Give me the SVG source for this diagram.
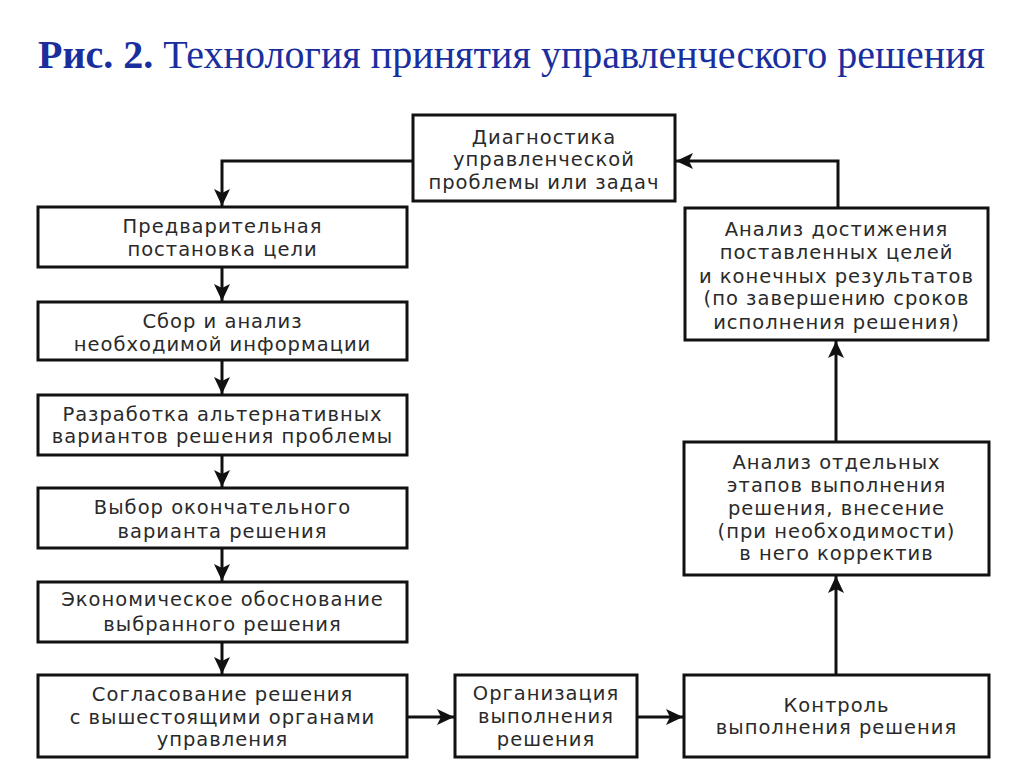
<svg xmlns="http://www.w3.org/2000/svg" width="1024" height="767" viewBox="0 0 1024 767">
<defs>
<style>
.title{font-family:"Liberation Serif","Times New Roman",serif;font-size:39px;fill:#1a2f9e}
.box{fill:#fff;stroke:#111;stroke-width:3}
.t{font-family:"DejaVu Sans","Liberation Sans",sans-serif;font-size:19.5px;letter-spacing:1px;fill:#2a2a2a;text-anchor:middle}
.c{fill:none;stroke:#111;stroke-width:3}
</style>
<marker id="ah" markerUnits="userSpaceOnUse" markerWidth="18" markerHeight="16" refX="17" refY="8" orient="auto">
<path d="M0,0 L17,8 L0,16 L4,8 z" fill="#111"/>
</marker>
</defs>
<rect width="1024" height="767" fill="#fff"/>
<text class="title" x="38" y="68" textLength="947" lengthAdjust="spacingAndGlyphs"><tspan font-weight="bold">Рис. 2.</tspan> Технология принятия управленческого решения</text>

<g id="connectors">
<path class="c" d="M413,161 H222 V206" marker-end="url(#ah)"/>
<path class="c" d="M222,268 V301" marker-end="url(#ah)"/>
<path class="c" d="M222,361 V394" marker-end="url(#ah)"/>
<path class="c" d="M222,456 V487" marker-end="url(#ah)"/>
<path class="c" d="M222,549 V581" marker-end="url(#ah)"/>
<path class="c" d="M222,643 V674" marker-end="url(#ah)"/>
<path class="c" d="M408,717 H454" marker-end="url(#ah)"/>
<path class="c" d="M638,717 H683" marker-end="url(#ah)"/>
<path class="c" d="M836,674 V576" marker-end="url(#ah)"/>
<path class="c" d="M836,441 V341" marker-end="url(#ah)"/>
<path class="c" d="M838,207 V161 H676" marker-end="url(#ah)"/>
</g>

<g id="n-diag">
<rect class="box" x="413" y="115" width="262" height="86"/>
<text class="t" x="544" y="144">Диагностика</text>
<text class="t" x="544" y="166">управленческой</text>
<text class="t" x="544" y="189">проблемы или задач</text>
</g>
<g id="n-goal">
<rect class="box" x="38" y="207" width="369" height="60"/>
<text class="t" x="222.5" y="233">Предварительная</text>
<text class="t" x="222.5" y="256">постановка цели</text>
</g>
<g id="n-info">
<rect class="box" x="38" y="302" width="369" height="58"/>
<text class="t" x="222.5" y="328">Сбор и анализ</text>
<text class="t" x="222.5" y="351">необходимой информации</text>
</g>
<g id="n-alt">
<rect class="box" x="38" y="395" width="369" height="60"/>
<text class="t" x="222.5" y="421">Разработка альтернативных</text>
<text class="t" x="222.5" y="443">вариантов решения проблемы</text>
</g>
<g id="n-choice">
<rect class="box" x="38" y="488" width="369" height="60"/>
<text class="t" x="222.5" y="514">Выбор окончательного</text>
<text class="t" x="222.5" y="538">варианта решения</text>
</g>
<g id="n-econ">
<rect class="box" x="38" y="582" width="369" height="60"/>
<text class="t" x="222.5" y="606">Экономическое обоснование</text>
<text class="t" x="222.5" y="631">выбранного решения</text>
</g>
<g id="n-agree">
<rect class="box" x="38" y="675" width="369" height="82"/>
<text class="t" x="222.5" y="701">Согласование решения</text>
<text class="t" x="222.5" y="724">с вышестоящими органами</text>
<text class="t" x="222.5" y="746">управления</text>
</g>
<g id="n-org">
<rect class="box" x="455" y="675" width="182" height="82"/>
<text class="t" x="546" y="700">Организация</text>
<text class="t" x="546" y="723">выполнения</text>
<text class="t" x="546" y="746">решения</text>
</g>
<g id="n-control">
<rect class="box" x="684" y="675" width="305" height="82"/>
<text class="t" x="836.5" y="712">Контроль</text>
<text class="t" x="836.5" y="734">выполнения решения</text>
</g>
<g id="n-stages">
<rect class="box" x="684" y="442" width="305" height="133"/>
<text class="t" x="836.5" y="469">Анализ отдельных</text>
<text class="t" x="836.5" y="492">этапов выполнения</text>
<text class="t" x="836.5" y="515">решения, внесение</text>
<text class="t" x="836.5" y="538">(при необходимости)</text>
<text class="t" x="836.5" y="560">в него корректив</text>
</g>
<g id="n-results">
<rect class="box" x="685" y="208" width="303" height="132"/>
<text class="t" x="836.5" y="236">Анализ достижения</text>
<text class="t" x="836.5" y="259">поставленных целей</text>
<text class="t" x="836.5" y="283">и конечных результатов</text>
<text class="t" x="836.5" y="305">(по завершению сроков</text>
<text class="t" x="836.5" y="329">исполнения решения)</text>
</g>
</svg>
